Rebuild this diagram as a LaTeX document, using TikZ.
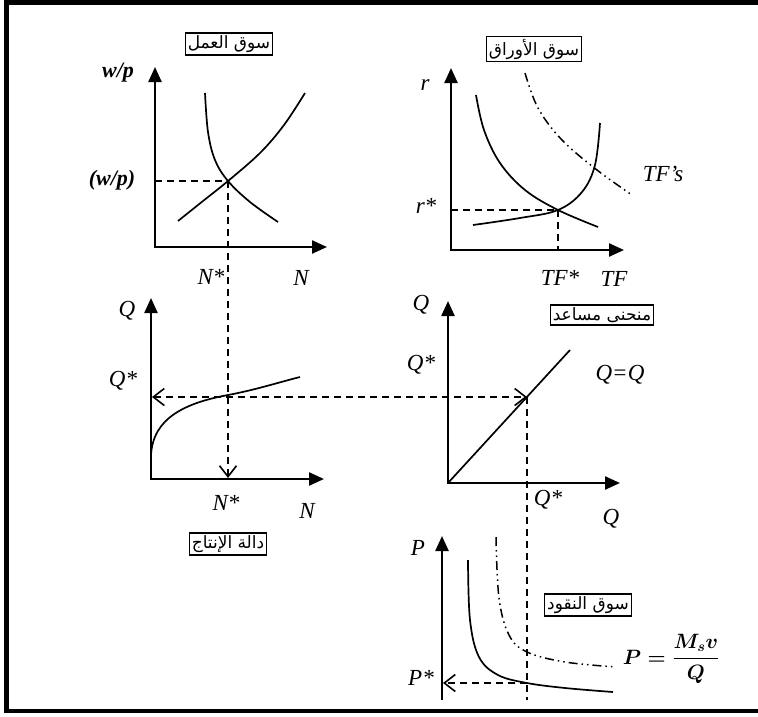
\documentclass[tikz,border=0pt]{standalone}
\usepackage{amsmath}
\usepackage{fontspec}
\setmainfont{Liberation Serif}
\newfontfamily\arabicfont[Script=Arabic]{DejaVu Sans}
\TeXXeTstate=1
\usetikzlibrary{arrows.meta}
\tikzset{
  axis/.style={line width=2.4pt,{Triangle[length=15pt,width=13pt]}-{Triangle[length=15pt,width=13pt]}},
  axisup/.style={line width=2.4pt,-{Triangle[length=15pt,width=13pt]}},
  curve/.style={line width=1.7pt},
  dsh/.style={line width=1.8pt,dash pattern=on 7pt off 5pt},
  ddot/.style={line width=1.5pt,dash pattern=on 9pt off 4pt on 1.5pt off 4pt on 1.5pt off 4pt},
  barb/.style={-{Straight Barb[length=11pt,width=17pt,line width=1.6pt]}},
  barbboth/.style={{Straight Barb[length=11pt,width=17pt,line width=1.6pt]}-{Straight Barb[length=11pt,width=17pt,line width=1.6pt]}},
  lbl/.style={font=\fontsize{23}{25}\selectfont\itshape,inner sep=0pt},
  blbl/.style={font=\fontsize{22}{24}\selectfont\itshape\bfseries,inner sep=0pt},
  frm/.style={font=\fontsize{20}{22}\selectfont,inner sep=0pt},
  title/.style={draw,line width=1.3pt,fill=white,font=\arabicfont\fontsize{17}{19}\selectfont,inner sep=2.5pt}
}
\begin{document}
\begin{tikzpicture}[x=1pt,y=-1pt]
\useasboundingbox (0,0) rectangle (758,716);
\fill[white] (0,0) rectangle (758,716);
\draw[line width=4.5pt] (6.5,2.5) rectangle (780,711);

% ---------- Panel 1: labour market ----------
\coordinate (p1top) at (155,67);
\coordinate (p1o) at (155,247);
\coordinate (p1right) at (327,247);
\coordinate (e1) at (228,181);
\coordinate (e1y) at (155,181);
\draw[axis] (p1top) -- (p1o) -- (p1right);
\draw[curve] plot[smooth,tension=0.6] coordinates {(205,93) (208,132) (215,160) (228,181) (250,202) (278,222)};
\draw[curve] plot[smooth,tension=0.6] coordinates {(178,221) (203,201) (228,181) (260,153) (284,125) (305,93)};
\draw[dsh] (e1y) -- (e1);
\node[blbl] (wp) at (118,73) {w/p};
\node[blbl] (wpstar) at (112,180) {(w/p)};
\node[lbl] (nstar1) at (211,277) {N*};
\node[lbl] (n1) at (301,278) {N};
\node[title] (t1) at (229,44) {\beginR سوق العمل\endR};

% ---------- Panel 2: bond market ----------
\coordinate (p2top) at (451,68);
\coordinate (p2o) at (451,250);
\coordinate (p2right) at (624,250);
\coordinate (e2) at (558,210);
\coordinate (e2y) at (451,210);
\coordinate (e2x) at (558,250);
\draw[axis] (p2top) -- (p2o) -- (p2right);
\draw[curve] plot[smooth,tension=0.6] coordinates {(476,95) (484,130) (500,163) (525,190) (558,210) (598,227)};
\draw[curve] plot[smooth,tension=0.6] coordinates {(473,225) (520,218) (558,210) (582,192) (595,165) (600,123)};
\draw[ddot] plot[smooth,tension=0.6] coordinates {(525,73) (538,108) (562,140) (597,170) (632,195)};
\draw[dsh] (e2y) -- (e2);
\draw[dsh] (e2) -- (e2x);
\node[lbl] (r) at (425,85) {r};
\node[lbl] (rstar) at (426,206) {r*};
\node[lbl] (tfstar) at (560,278) {TF*};
\node[lbl] (tf) at (614,279) {TF};
\node[lbl] (tfs) at (663,174) {TF’s};
\node[title] (t2) at (534,49) {\beginR سوق الأوراق\endR};

% ---------- Panel 3: production function ----------
\coordinate (p3top) at (151,298);
\coordinate (p3o) at (151,479);
\coordinate (p3right) at (324,479);
\coordinate (e3) at (228,397);
\coordinate (e3y) at (152,397);
\coordinate (e3x) at (228,478);
\draw[axis] (p3top) -- (p3o) -- (p3right);
\draw[curve] (151,455) .. controls (153,418) and (185,403) .. (228,395) .. controls (255,390) and (280,382) .. (300,377);
\node[lbl] (q3) at (127,311) {Q};
\node[lbl] (qstar3) at (123,381) {Q*};
\node[lbl] (nstar3) at (226,503) {N*};
\node[lbl] (n3) at (307,511) {N};
\node[title] (t3) at (228,544) {\beginR دالة الإنتاج\endR};

% ---------- Panel 4: 45-degree line ----------
\coordinate (p4top) at (448,301);
\coordinate (p4o) at (448,483);
\coordinate (p4right) at (620,483);
\coordinate (e4) at (527,397);
\coordinate (p4end) at (570,350);
\draw[axis] (p4top) -- (p4o) -- (p4right);
\draw[curve] (p4o) -- (p4end);
\node[lbl] (q4) at (421,305) {Q};
\node[lbl] (qstar4) at (421,365) {Q*};
\node[lbl] (qeq) at (620,375) {Q=Q};
\node[lbl] (qstar4x) at (548,500) {Q*};
\node[lbl] (q4x) at (611,519) {Q};
\node[title] (t4) at (602,315) {\beginR منحنى مساعد\endR};

% ---------- Panel 5: money market ----------
\coordinate (p5top) at (442,536);
\coordinate (p5bot) at (442,700);
\coordinate (e5) at (527,683);
\coordinate (e5y) at (443,683);
\coordinate (e4bot) at (527,700);
\draw[axisup] (p5bot) -- (p5top);
\draw[curve] plot[smooth,tension=0.6] coordinates {(468,560) (470,620) (479,657) (498,675) (527,683) (565,688) (613,692)};
\draw[ddot] plot[smooth,tension=0.6] coordinates {(496,537) (499,598) (509,635) (527,652) (565,662) (616,667)};
\node[frm] (pform) at (671,659) {$\boldsymbol{P=\dfrac{M_s v}{Q}}$};
\node[lbl] (p5) at (418,548) {P};
\node[lbl] (pstar) at (421,678) {P*};
\node[title] (t5) at (588,605) {\beginR سوق النقود\endR};

% ---------- linking dashed connectors ----------
\draw[dsh] (e1) -- (e3);
\draw[dsh,barb] (e3) -- (e3x);
\draw[dsh,barbboth] (e3y) -- (e4);
\draw[dsh] (e4) -- (e4bot);
\draw[dsh,barb] (e5) -- (e5y);
\end{tikzpicture}
\end{document}
